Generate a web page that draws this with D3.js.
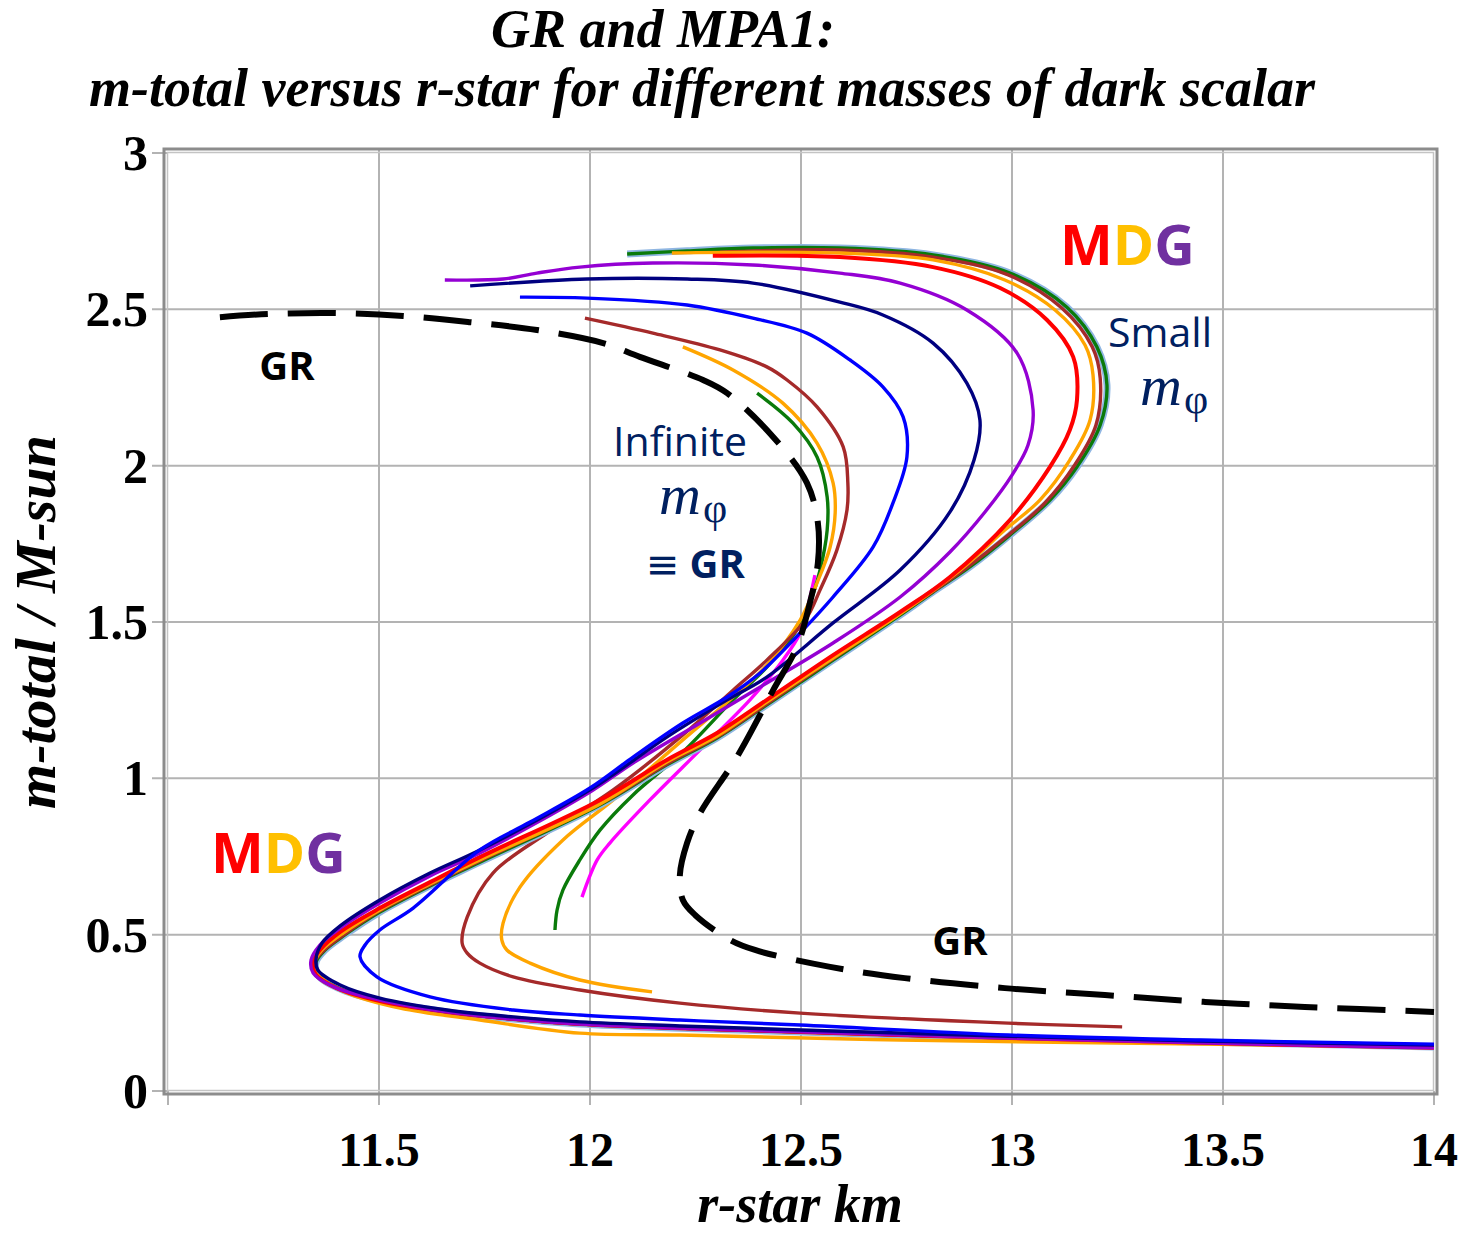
<!DOCTYPE html>
<html>
<head>
<meta charset="utf-8">
<script src="https://cdn.jsdelivr.net/npm/d3@7"></script>
<style>
  body { margin: 0; background: #fff; }
</style>
</head>
<body>
<div id="chart"></div>
<script>
// axis ticks
const xTicks = [11.5, 12, 12.5, 13, 13.5, 14];
const yTicks = [0, 0.5, 1, 1.5, 2, 2.5, 3];

// GR (infinite scalar mass) - dashed
const grCurve = [[11.123, 2.475], [11.237, 2.485], [11.400, 2.488], [11.557, 2.479], [11.716, 2.459],
  [11.874, 2.434], [12.031, 2.392], [12.118, 2.348], [12.268, 2.274], [12.325, 2.232], [12.434, 2.092],
  [12.514, 1.945], [12.540, 1.817], [12.540, 1.689], [12.521, 1.561], [12.490, 1.420], [12.434, 1.282],
  [12.348, 1.068], [12.261, 0.889], [12.230, 0.793], [12.213, 0.691], [12.220, 0.611], [12.249, 0.563],
  [12.332, 0.483], [12.391, 0.451], [12.569, 0.397], [12.746, 0.361], [12.983, 0.329], [13.220, 0.307],
  [13.457, 0.285], [13.694, 0.269], [14.0, 0.253]];

// MDG curves, small scalar mass (outer bundle)
const greenOuter = [[12.088, 2.677], [12.230, 2.687], [12.386, 2.696], [12.592, 2.696], [12.813, 2.674],
  [12.995, 2.616], [13.130, 2.507], [13.201, 2.380], [13.225, 2.258], [13.209, 2.130], [13.154, 1.996],
  [13.090, 1.890], [12.995, 1.778], [12.900, 1.676], [12.813, 1.596], [12.735, 1.522], [12.576, 1.378],
  [12.419, 1.235], [12.301, 1.129], [12.182, 1.043], [12.024, 0.915], [11.739, 0.732], [11.621, 0.656],
  [11.502, 0.572], [11.419, 0.499], [11.372, 0.451], [11.351, 0.413], [11.355, 0.371], [11.403, 0.329],
  [11.502, 0.288], [11.661, 0.253], [11.818, 0.230], [11.976, 0.214], [12.213, 0.201], [12.498, 0.189],
  [12.972, 0.170], [13.445, 0.157], [14.0, 0.141]];
const brownOuter = [[12.308, 2.683], [12.592, 2.690], [12.813, 2.667], [12.991, 2.610], [13.118, 2.504],
  [13.190, 2.380], [13.209, 2.280], [13.199, 2.130], [13.147, 1.999], [13.078, 1.881], [12.991, 1.778],
  [12.889, 1.670], [12.735, 1.526], [12.576, 1.382], [12.419, 1.238], [12.301, 1.132], [12.182, 1.046],
  [12.024, 0.918], [11.739, 0.736], [11.621, 0.659], [11.502, 0.576], [11.419, 0.502], [11.370, 0.451],
  [11.348, 0.413], [11.353, 0.371], [11.400, 0.329], [11.502, 0.288], [11.661, 0.253], [11.818, 0.230],
  [11.976, 0.214], [12.213, 0.201], [12.498, 0.189], [12.972, 0.170], [13.445, 0.157], [14.0, 0.141]];
const orangeOuter = [[12.194, 2.680], [12.386, 2.683], [12.592, 2.680], [12.813, 2.658], [12.983, 2.594],
  [13.102, 2.498], [13.173, 2.386], [13.192, 2.290], [13.185, 2.146], [13.137, 2.018], [13.066, 1.890],
  [12.983, 1.794], [12.877, 1.666], [12.735, 1.526], [12.576, 1.385], [12.419, 1.244], [12.301, 1.135],
  [12.182, 1.052], [12.024, 0.918], [11.739, 0.739], [11.621, 0.662], [11.502, 0.579], [11.415, 0.505],
  [11.365, 0.451], [11.348, 0.413], [11.360, 0.368], [11.419, 0.317], [11.550, 0.265], [11.739, 0.227],
  [11.976, 0.185], [12.213, 0.179], [12.735, 0.163], [13.445, 0.150], [14.0, 0.141]];
const redCurve = [[12.291, 2.671], [12.592, 2.667], [12.813, 2.635], [12.972, 2.568], [13.083, 2.466],
  [13.145, 2.348], [13.154, 2.210], [13.137, 2.114], [13.090, 1.996], [12.995, 1.826], [12.853, 1.644],
  [12.735, 1.532], [12.576, 1.394], [12.419, 1.251], [12.301, 1.145], [12.182, 1.059], [12.024, 0.931],
  [11.739, 0.748], [11.621, 0.668], [11.502, 0.585], [11.408, 0.509], [11.360, 0.451], [11.344, 0.413],
  [11.351, 0.371], [11.400, 0.329], [11.502, 0.288], [11.661, 0.253], [11.818, 0.230], [11.976, 0.214],
  [12.213, 0.201], [12.498, 0.189], [12.972, 0.170], [13.445, 0.154], [14.0, 0.138]];
const purpleCurve = [[11.656, 2.594], [11.794, 2.597], [11.874, 2.616], [11.976, 2.635], [12.149, 2.648],
  [12.386, 2.642], [12.592, 2.616], [12.735, 2.584], [12.893, 2.498], [13.012, 2.360], [13.050, 2.178],
  [13.038, 2.066], [13.000, 1.970], [12.936, 1.852], [12.853, 1.724], [12.735, 1.580], [12.576, 1.433],
  [12.419, 1.305], [12.261, 1.177], [12.102, 1.049], [12.000, 0.956], [11.739, 0.761], [11.621, 0.688],
  [11.502, 0.601], [11.408, 0.521], [11.360, 0.467], [11.339, 0.419], [11.344, 0.377], [11.393, 0.333],
  [11.502, 0.291], [11.661, 0.253], [11.818, 0.230], [11.976, 0.214], [12.213, 0.201], [12.498, 0.189],
  [12.972, 0.170], [13.445, 0.154], [14.0, 0.138]];
const navyCurve = [[11.716, 2.575], [11.993, 2.597], [12.230, 2.597], [12.386, 2.584], [12.592, 2.523],
  [12.694, 2.482], [12.813, 2.392], [12.893, 2.264], [12.924, 2.146], [12.910, 2.018], [12.853, 1.852],
  [12.735, 1.666], [12.576, 1.497], [12.419, 1.324], [12.325, 1.251], [12.182, 1.132], [12.000, 0.963],
  [11.739, 0.771], [11.621, 0.697], [11.502, 0.611], [11.408, 0.528], [11.365, 0.473], [11.351, 0.425],
  [11.355, 0.387], [11.408, 0.339], [11.502, 0.297], [11.661, 0.259], [11.818, 0.237], [11.976, 0.221],
  [12.213, 0.208], [12.498, 0.195], [12.972, 0.176], [13.445, 0.160], [14.0, 0.147]];
const blueCurve = [[11.834, 2.539], [11.993, 2.536], [12.230, 2.514], [12.386, 2.472], [12.514, 2.424],
  [12.616, 2.338], [12.694, 2.252], [12.742, 2.156], [12.751, 2.028], [12.718, 1.881], [12.671, 1.740],
  [12.576, 1.580], [12.498, 1.465], [12.403, 1.337], [12.325, 1.260], [12.220, 1.177], [12.102, 1.068],
  [12.000, 0.969], [11.858, 0.860], [11.739, 0.771], [11.581, 0.585], [11.502, 0.515], [11.467, 0.467],
  [11.455, 0.429], [11.495, 0.365], [11.621, 0.301], [11.818, 0.259], [11.976, 0.243], [12.213, 0.227],
  [12.498, 0.211], [12.991, 0.179], [13.445, 0.163], [14.0, 0.150]];

// MDG curves, larger scalar mass (inner set)
const brownInner = [[11.988, 2.472], [12.149, 2.424], [12.308, 2.370], [12.419, 2.316], [12.467, 2.274],
  [12.538, 2.188], [12.600, 2.060], [12.611, 1.945], [12.609, 1.858], [12.585, 1.730], [12.545, 1.602],
  [12.510, 1.506], [12.419, 1.378], [12.339, 1.282], [12.220, 1.139], [12.055, 0.963], [11.898, 0.825],
  [11.770, 0.697], [11.709, 0.556], [11.697, 0.473], [11.709, 0.441], [11.739, 0.409], [11.818, 0.365],
  [11.976, 0.323], [12.213, 0.281], [12.498, 0.249], [12.991, 0.217], [13.261, 0.205]];
const orangeInner = [[12.220, 2.380], [12.339, 2.306], [12.457, 2.200], [12.538, 2.072], [12.576, 1.945],
  [12.581, 1.849], [12.569, 1.740], [12.538, 1.625], [12.498, 1.506], [12.419, 1.362], [12.339, 1.260],
  [12.220, 1.123], [12.055, 0.931], [11.936, 0.803], [11.834, 0.652], [11.794, 0.537], [11.791, 0.483],
  [11.803, 0.451], [11.858, 0.409], [11.976, 0.355], [12.147, 0.317]];
const greenInner = [[12.396, 2.232], [12.481, 2.136], [12.538, 2.028], [12.562, 1.900], [12.562, 1.794],
  [12.545, 1.666], [12.521, 1.561], [12.490, 1.474], [12.419, 1.356], [12.339, 1.251], [12.220, 1.084],
  [12.102, 0.947], [12.024, 0.835], [11.976, 0.739], [11.936, 0.643], [11.922, 0.579], [11.917, 0.515]];
const magentaCurve = [[12.533, 1.650], [12.517, 1.554], [12.498, 1.465], [12.457, 1.378], [12.379, 1.251],
  [12.261, 1.091], [12.142, 0.931], [12.047, 0.793], [12.017, 0.739], [11.981, 0.620]];

const width = 1468, height = 1234;
const plotLeft = 168, plotRight = 1434, plotTop = 153, plotBottom = 1091;

const svg = d3.select('#chart')
    .append('svg')
    .attr('width', width)
    .attr('height', height)
    .style('font-family', "'Liberation Serif', serif");

const x = d3.scaleLinear().domain([11, 14]).range([plotLeft, plotRight]);
const y = d3.scaleLinear().domain([0, 3]).range([plotBottom, plotTop]);

// grid
svg.append('g').selectAll('line')
    .data(xTicks.filter(d => d < 14))
    .join('line')
    .attr('x1', d => x(d)).attr('x2', d => x(d))
    .attr('y1', plotTop - 3).attr('y2', plotBottom + 14)
    .attr('stroke', '#b3b3b3').attr('stroke-width', 2);

svg.append('g').selectAll('line')
    .data(yTicks.filter(d => d > 0 && d < 3))
    .join('line')
    .attr('x1', plotLeft - 16).attr('x2', plotRight + 3)
    .attr('y1', d => y(d)).attr('y2', d => y(d))
    .attr('stroke', '#b3b3b3').attr('stroke-width', 2);

// small ticks outside the frame
svg.append('g').selectAll('line')
    .data([0, 3])
    .join('line')
    .attr('x1', plotLeft - 16).attr('x2', plotLeft)
    .attr('y1', d => y(d)).attr('y2', d => y(d))
    .attr('stroke', '#b3b3b3').attr('stroke-width', 2);
svg.append('g').selectAll('line')
    .data([11, 14])
    .join('line')
    .attr('x1', d => x(d)).attr('x2', d => x(d))
    .attr('y1', plotBottom).attr('y2', plotBottom + 14)
    .attr('stroke', '#b3b3b3').attr('stroke-width', 2);

// double frame
svg.append('rect')
    .attr('x', plotLeft - 4).attr('y', plotTop - 4)
    .attr('width', plotRight - plotLeft + 7).attr('height', plotBottom - plotTop + 7)
    .attr('fill', 'none').attr('stroke', '#8c8c8c').attr('stroke-width', 3);
svg.append('rect')
    .attr('x', plotLeft - 0.5).attr('y', plotTop - 0.5)
    .attr('width', plotRight - plotLeft).attr('height', plotBottom - plotTop)
    .attr('fill', 'none').attr('stroke', '#c4c4c4').attr('stroke-width', 1.5);

// tick labels
svg.append('g').selectAll('text')
    .data(xTicks)
    .join('text')
    .attr('x', d => x(d))
    .attr('y', 1166)
    .attr('text-anchor', 'middle')
    .attr('font-size', 48)
    .attr('font-weight', 'bold')
    .text(d => d);

svg.append('g').selectAll('text')
    .data(yTicks)
    .join('text')
    .attr('x', 148)
    .attr('y', d => y(d) + 17)
    .attr('text-anchor', 'end')
    .attr('font-size', 50)
    .attr('font-weight', 'bold')
    .text(d => d);

// curves
const line = d3.line()
    .x(d => x(d[0]))
    .y(d => y(d[1]))
    .curve(d3.curveCatmullRom.alpha(0.5));

const series = [
    { data: magentaCurve, color: '#ff00ff' },
    { data: greenInner, color: '#0a7a0a' },
    { data: orangeInner, color: '#ffa500' },
    { data: brownInner, color: '#a52a2a' },
    { data: greenOuter, color: '#8fb6e2', w: 7 },
    { data: greenOuter, color: '#0a7a0a' },
    { data: brownOuter, color: '#a52a2a' },
    { data: orangeOuter, color: '#ffa500' },
    { data: redCurve, color: '#ff0000', w: 4 },
    { data: purpleCurve, color: '#9400d3' },
    { data: navyCurve, color: '#000080' },
    { data: blueCurve, color: '#0000ff' }
];

svg.append('g').selectAll('path')
    .data(series)
    .join('path')
    .attr('d', d => line(d.data))
    .attr('fill', 'none')
    .attr('stroke', d => d.color)
    .attr('stroke-width', d => d.w || 3.4)
    .attr('stroke-linejoin', 'round');

svg.append('path')
    .attr('d', line(grCurve))
    .attr('fill', 'none')
    .attr('stroke', '#000')
    .attr('stroke-width', 6)
    .attr('stroke-dasharray', '48,20');

// titles
svg.append('text')
    .attr('x', 663).attr('y', 47)
    .attr('text-anchor', 'middle')
    .attr('font-size', 54).attr('font-weight', 'bold').attr('font-style', 'italic')
    .text('GR and MPA1:');
svg.append('text')
    .attr('x', 702).attr('y', 106)
    .attr('text-anchor', 'middle')
    .attr('font-size', 54).attr('font-weight', 'bold').attr('font-style', 'italic')
    .text('m-total versus r-star for different masses of dark scalar');

svg.append('text')
    .attr('x', 800).attr('y', 1222)
    .attr('text-anchor', 'middle')
    .attr('font-size', 54).attr('font-weight', 'bold').attr('font-style', 'italic')
    .text('r-star km');
svg.append('text')
    .attr('transform', 'translate(55,622) rotate(-90)')
    .attr('text-anchor', 'middle')
    .attr('font-size', 58).attr('font-weight', 'bold').attr('font-style', 'italic')
    .text('m-total / M-sun');

// annotations
const sans = "'Open Sans', sans-serif";
const navy = '#002060';

function mdg(px, py) {
    const t = svg.append('text')
        .attr('x', px).attr('y', py)
        .attr('font-family', sans).attr('font-size', 56).attr('font-weight', 'bold');
    t.append('tspan').attr('fill', '#ff0000').text('M');
    t.append('tspan').attr('fill', '#ffc000').text('D');
    t.append('tspan').attr('fill', '#7030a0').text('G');
}
mdg(1060, 265);
mdg(211, 873);

function mphi(px, py) {
    svg.append('text')
        .attr('x', px).attr('y', py)
        .attr('fill', navy).attr('font-size', 58).attr('font-style', 'italic')
        .text('m');
    svg.append('text')
        .attr('x', px + 44).attr('y', py + 8)
        .attr('fill', navy).attr('font-size', 42)
        .text('φ');
}

svg.append('text')
    .attr('x', 287).attr('y', 380)
    .attr('text-anchor', 'middle')
    .attr('font-family', sans).attr('font-size', 40).attr('font-weight', 'bold')
    .text('GR');
svg.append('text')
    .attr('x', 960).attr('y', 955)
    .attr('text-anchor', 'middle')
    .attr('font-family', sans).attr('font-size', 40).attr('font-weight', 'bold')
    .text('GR');

svg.append('text')
    .attr('x', 1212).attr('y', 347)
    .attr('text-anchor', 'end')
    .attr('font-family', sans).attr('font-size', 41).attr('fill', navy)
    .text('Small');
mphi(1140, 405);

svg.append('text')
    .attr('x', 680).attr('y', 456)
    .attr('text-anchor', 'middle')
    .attr('font-family', sans).attr('font-size', 41).attr('fill', navy)
    .text('Infinite');
mphi(659, 514);

const eq = svg.append('text')
    .attr('x', 646).attr('y', 578)
    .attr('fill', navy);
eq.append('tspan').attr('font-family', "'DejaVu Sans', sans-serif").attr('font-size', 40).text('≡');
eq.append('tspan').attr('font-family', sans).attr('font-size', 40).attr('font-weight', 'bold').attr('dx', 10).text('GR');
</script>
</body>
</html>
